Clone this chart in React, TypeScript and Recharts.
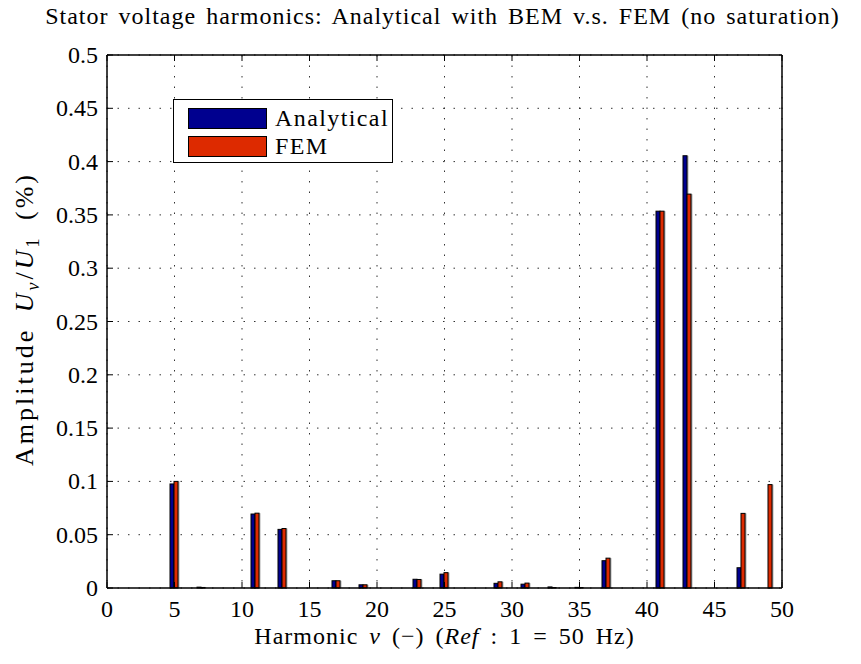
import { Bar, BarChart, CartesianGrid, XAxis, YAxis } from 'recharts';

const harmonics = [1, 3, 5, 7, 9, 11, 13, 15, 17, 19, 21, 23, 25, 27, 29, 31, 33, 35, 37, 39, 41, 43, 45, 47, 49];
const analytical = [0, 0, 0.0976, 0.0008, 0, 0.0694, 0.055, 0, 0.0068, 0.003, 0, 0.0082, 0.013, 0, 0.0044, 0.0036, 0.001, 0.0006, 0.0256, 0, 0.3535, 0.4055, 0, 0.019, 0];
const fem = [0, 0, 0.1, 0.0005, 0, 0.0702, 0.0558, 0, 0.0068, 0.003, 0, 0.008, 0.0144, 0, 0.0058, 0.0046, 0.0004, 0.0004, 0.028, 0, 0.3535, 0.3695, 0, 0.07, 0.097];
const xTicks = [0, 5, 10, 15, 20, 25, 30, 35, 40, 45, 50];
const yTicks = [0, 0.05, 0.1, 0.15, 0.2, 0.25, 0.3, 0.35, 0.4, 0.45, 0.5];

const data = harmonics.map((h, i) => ({ h, analytical: analytical[i], fem: fem[i] }));

const FONT = '"Liberation Serif", "Times New Roman", Times, serif';
const TICK = 6;

const BottomTick = ({ x, y, payload }: any) => (
  <g>
    <line x1={x} x2={x} y1={y} y2={y - TICK} stroke="#000" />
    <text x={x} y={y + 29} textAnchor="middle" fontSize={24} fontFamily={FONT} fill="#000">
      {payload.value}
    </text>
  </g>
);
const TopTick = ({ x, y }: any) => <line x1={x} x2={x} y1={y} y2={y + TICK} stroke="#000" />;
const LeftTick = ({ x, y, payload }: any) => (
  <g>
    <line x1={x} x2={x + TICK} y1={y} y2={y} stroke="#000" />
    <text x={x - 9} y={y + 8} textAnchor="end" fontSize={24} fontFamily={FONT} fill="#000">
      {String(payload.value)}
    </text>
  </g>
);
const RightTick = ({ x, y }: any) => <line x1={x} x2={x - TICK} y1={y} y2={y} stroke="#000" />;

const shadedBar = (fill: string) => (p: any) => {
  if (!p.height || p.height <= 0) return <g />;
  return (
    <g>
      <rect x={p.x + 1.5} y={p.y} width={p.width} height={p.height} fill="#b0b0b0" />
      <rect x={p.x} y={p.y} width={p.width} height={p.height} fill={fill} stroke="#000" strokeWidth={1} />
    </g>
  );
};

const axisLine = { stroke: '#000', strokeWidth: 1.5 };

export default function App() {
  return (
    <div style={{ position: 'absolute', left: 0, top: 0, width: 861, height: 664, background: '#fff', fontFamily: FONT }}>
      <BarChart
        width={861}
        height={664}
        data={data}
        margin={{ top: 54, right: 78, left: 106, bottom: 75 }}
        barSize={4}
        barGap={0}
      >
        <CartesianGrid stroke="#333" strokeDasharray="1.5 9" />
        <XAxis
          dataKey="h"
          type="number"
          domain={[0, 50]}
          ticks={xTicks}
          height={1}
          tickSize={0}
          tickMargin={0}
          tickLine={false}
          axisLine={axisLine}
          tick={<BottomTick />}
          interval={0}
        />
        <XAxis
          xAxisId="top"
          dataKey="h"
          type="number"
          orientation="top"
          domain={[0, 50]}
          ticks={xTicks}
          height={1}
          tickSize={0}
          tickMargin={0}
          tickLine={false}
          axisLine={axisLine}
          tick={<TopTick />}
          interval={0}
        />
        <YAxis
          domain={[0, 0.5]}
          ticks={yTicks}
          width={1}
          tickSize={0}
          tickMargin={0}
          tickLine={false}
          axisLine={axisLine}
          tick={<LeftTick />}
          interval={0}
        />
        <YAxis
          yAxisId="right"
          orientation="right"
          domain={[0, 0.5]}
          ticks={yTicks}
          width={1}
          tickSize={0}
          tickMargin={0}
          tickLine={false}
          axisLine={axisLine}
          tick={<RightTick />}
          interval={0}
        />
        <Bar dataKey="analytical" name="Analytical" fill="#00008f" shape={shadedBar('#00008f')} isAnimationActive={false} />
        <Bar dataKey="fem" name="FEM" fill="#dd2a00" shape={shadedBar('#dd2a00')} isAnimationActive={false} />
      </BarChart>

      <div
        style={{
          position: 'absolute',
          left: 27,
          top: 3,
          width: 831,
          textAlign: 'center',
          fontSize: 24,
          letterSpacing: 1,
          wordSpacing: 3,
          whiteSpace: 'nowrap',
        }}
      >
        Stator voltage harmonics: Analytical with BEM v.s. FEM (no saturation)
      </div>

      <div
        style={{
          position: 'absolute',
          left: 107,
          top: 623,
          width: 675,
          textAlign: 'center',
          fontSize: 24,
          letterSpacing: 1,
          wordSpacing: 4,
          whiteSpace: 'nowrap',
        }}
      >
        Harmonic <i>ν</i> (−) (<i>Ref</i> : 1 = 50 Hz)
      </div>

      <div
        style={{
          position: 'absolute',
          left: 27,
          top: 319,
          transform: 'translate(-50%, -50%) rotate(-90deg)',
          fontSize: 26,
          letterSpacing: 3,
          wordSpacing: 6,
          whiteSpace: 'nowrap',
        }}
      >
        Amplitude <i>U</i>
        <sub style={{ fontSize: 18 }}>
          <i>ν</i>
        </sub>
        /<i>U</i>
        <sub style={{ fontSize: 18 }}>1</sub> (%)
      </div>

      <div
        style={{
          position: 'absolute',
          left: 173,
          top: 99,
          width: 218,
          height: 62,
          border: '1.5px solid #000',
          background: '#fff',
          fontSize: 24,
          letterSpacing: 1.4,
        }}
      >
        {[
          { name: 'Analytical', color: '#00008f' },
          { name: 'FEM', color: '#dd2a00' },
        ].map((it, i) => (
          <div key={it.name} style={{ position: 'absolute', left: 14, top: 7 + i * 28, display: 'flex', alignItems: 'center' }}>
            <span style={{ display: 'inline-block', width: 77, height: 19, background: it.color, border: '1px solid #000' }} />
            <span style={{ marginLeft: 8, lineHeight: '22px' }}>{it.name}</span>
          </div>
        ))}
      </div>
    </div>
  );
}
